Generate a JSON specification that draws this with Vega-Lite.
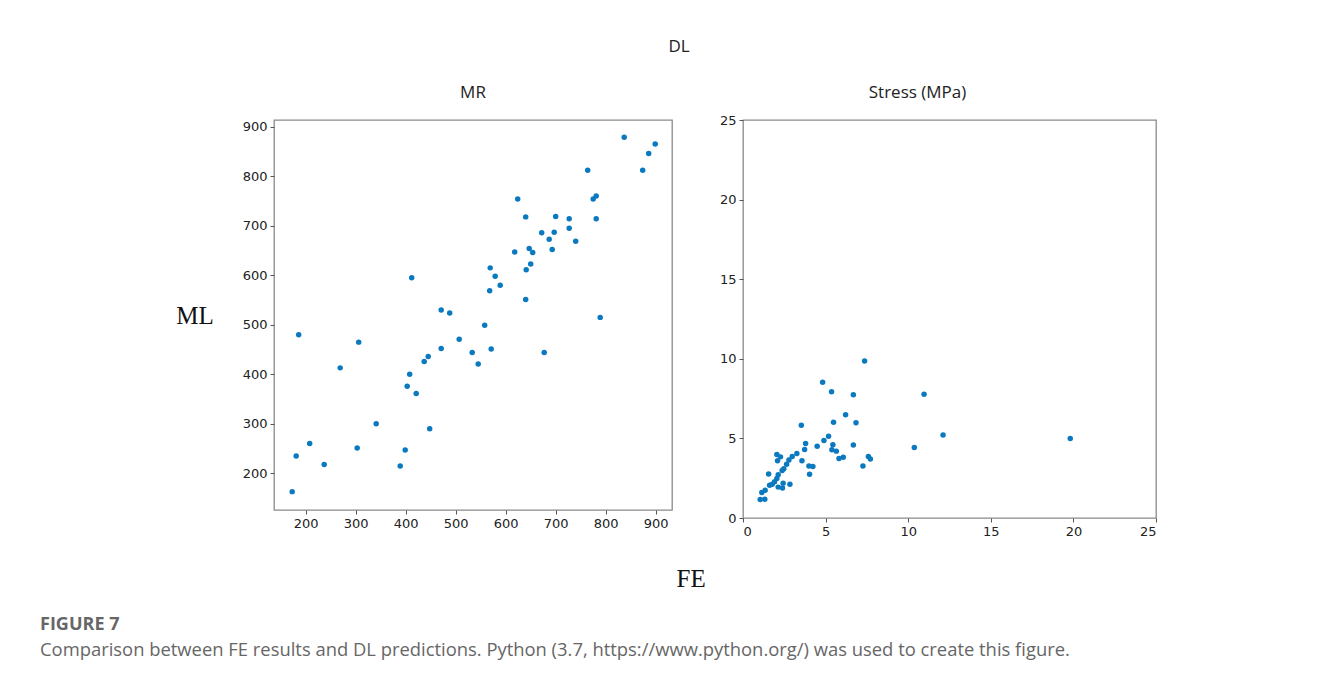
{
  "$schema": "https://vega.github.io/schema/vega-lite/v6.json",
  "background": "white",
  "padding": {"left": 40, "top": 38, "right": 10, "bottom": 5},
  "config": {
    "view": {"stroke": "#8a8a8a", "strokeWidth": 1.3},
    "axis": {"grid": false, "domain": false, "tickColor": "#555", "tickSize": 4, "labelPadding": 3, "labelFont": "DejaVu Sans", "labelFontSize": 13, "labelColor": "#222"},
    "title": {"font": "Open Sans", "fontSize": 17, "fontWeight": "normal", "color": "#222"}
  },
  "datasets": {
    "mr": [
      {"fe": 173, "ml": 163}, {"fe": 181, "ml": 235}, {"fe": 186, "ml": 480}, {"fe": 208, "ml": 260},
      {"fe": 237, "ml": 218}, {"fe": 269, "ml": 413}, {"fe": 303, "ml": 251}, {"fe": 306, "ml": 465},
      {"fe": 341, "ml": 300}, {"fe": 389, "ml": 215}, {"fe": 399, "ml": 247}, {"fe": 403, "ml": 376},
      {"fe": 408, "ml": 400}, {"fe": 412, "ml": 595}, {"fe": 421, "ml": 361}, {"fe": 437, "ml": 426},
      {"fe": 445, "ml": 436}, {"fe": 448, "ml": 290}, {"fe": 471, "ml": 530}, {"fe": 471, "ml": 452},
      {"fe": 488, "ml": 524}, {"fe": 507, "ml": 471}, {"fe": 533, "ml": 444}, {"fe": 545, "ml": 421},
      {"fe": 558, "ml": 499}, {"fe": 571, "ml": 451}, {"fe": 568, "ml": 569}, {"fe": 569, "ml": 615},
      {"fe": 579, "ml": 598}, {"fe": 589, "ml": 580}, {"fe": 618, "ml": 647}, {"fe": 624, "ml": 754},
      {"fe": 640, "ml": 718}, {"fe": 640, "ml": 551}, {"fe": 641, "ml": 611}, {"fe": 647, "ml": 654},
      {"fe": 650, "ml": 623}, {"fe": 654, "ml": 646}, {"fe": 672, "ml": 686}, {"fe": 677, "ml": 444},
      {"fe": 687, "ml": 673}, {"fe": 693, "ml": 652}, {"fe": 697, "ml": 687}, {"fe": 700, "ml": 719},
      {"fe": 727, "ml": 714}, {"fe": 727, "ml": 695}, {"fe": 740, "ml": 669}, {"fe": 764, "ml": 812},
      {"fe": 775, "ml": 754}, {"fe": 781, "ml": 760}, {"fe": 781, "ml": 714}, {"fe": 789, "ml": 515},
      {"fe": 837, "ml": 879}, {"fe": 874, "ml": 812}, {"fe": 886, "ml": 846}, {"fe": 899, "ml": 865}
    ],
    "stress": [
      {"fe": 7.36, "ml": 9.86}, {"fe": 4.82, "ml": 8.52}, {"fe": 5.36, "ml": 7.93}, {"fe": 6.68, "ml": 7.74},
      {"fe": 10.96, "ml": 7.78}, {"fe": 6.21, "ml": 6.48}, {"fe": 5.48, "ml": 6.02}, {"fe": 6.84, "ml": 5.98},
      {"fe": 3.53, "ml": 5.83}, {"fe": 12.11, "ml": 5.22}, {"fe": 5.18, "ml": 5.14}, {"fe": 4.9, "ml": 4.87},
      {"fe": 3.79, "ml": 4.68}, {"fe": 4.49, "ml": 4.51}, {"fe": 5.44, "ml": 4.6}, {"fe": 6.68, "ml": 4.58},
      {"fe": 10.37, "ml": 4.43}, {"fe": 3.73, "ml": 4.3}, {"fe": 5.38, "ml": 4.28}, {"fe": 5.65, "ml": 4.2},
      {"fe": 3.26, "ml": 4.05}, {"fe": 2.98, "ml": 3.86}, {"fe": 2.05, "ml": 3.99}, {"fe": 2.27, "ml": 3.84},
      {"fe": 2.09, "ml": 3.59}, {"fe": 2.78, "ml": 3.65}, {"fe": 3.57, "ml": 3.59}, {"fe": 5.81, "ml": 3.74},
      {"fe": 6.07, "ml": 3.82}, {"fe": 7.59, "ml": 3.86}, {"fe": 7.71, "ml": 3.7}, {"fe": 7.26, "ml": 3.26},
      {"fe": 3.99, "ml": 3.26}, {"fe": 4.23, "ml": 3.23}, {"fe": 2.64, "ml": 3.38}, {"fe": 2.47, "ml": 3.09},
      {"fe": 2.37, "ml": 2.98}, {"fe": 1.55, "ml": 2.77}, {"fe": 4.03, "ml": 2.75}, {"fe": 2.13, "ml": 2.71},
      {"fe": 2.05, "ml": 2.48}, {"fe": 1.91, "ml": 2.27}, {"fe": 1.77, "ml": 2.12}, {"fe": 1.61, "ml": 2.06},
      {"fe": 2.43, "ml": 2.19}, {"fe": 2.84, "ml": 2.12}, {"fe": 2.13, "ml": 1.94}, {"fe": 2.39, "ml": 1.89},
      {"fe": 1.34, "ml": 1.75}, {"fe": 1.14, "ml": 1.6}, {"fe": 1.04, "ml": 1.16}, {"fe": 1.32, "ml": 1.18},
      {"fe": 19.81, "ml": 4.99}
    ]
  },
  "title": {
    "text": "FIGURE 7",
    "subtitle": "Comparison between FE results and DL predictions. Python (3.7, https://www.python.org/) was used to create this figure.",
    "orient": "bottom", "anchor": "start", "dx": -135, "offset": 24,
    "font": "Open Sans", "fontSize": 18, "fontWeight": "bold", "color": "#666",
    "subtitleFont": "Open Sans", "subtitleFontSize": 18.4, "subtitleColor": "#666", "subtitlePadding": 7
  },
  "vconcat": [
    {
      "title": {"text": "DL", "orient": "top", "anchor": "middle", "offset": 27, "dx": 13},
      "vconcat": [
        {
          "title": {"text": "FE", "orient": "bottom", "anchor": "middle", "offset": 28, "dx": 25, "font": "Liberation Serif", "fontSize": 25, "color": "#111"},
          "spacing": 45,
          "hconcat": [
            {
              "width": 398, "height": 390,
              "title": {"text": "MR", "offset": 18},
              "data": {"name": "mr"},
              "mark": {"type": "circle", "size": 30, "color": "#0b79bf", "opacity": 1},
              "encoding": {
                "x": {"field": "fe", "type": "quantitative", "scale": {"domain": [136.6, 932.6], "nice": false, "zero": false},
                      "axis": {"values": [200, 300, 400, 500, 600, 700, 800, 900], "title": null}},
                "y": {"field": "ml", "type": "quantitative", "scale": {"domain": [125.9, 913.7], "nice": false, "zero": false},
                      "axis": {"values": [200, 300, 400, 500, 600, 700, 800, 900], "title": "ML", "titleAngle": 0, "titleAlign": "right", "titleBaseline": "middle", "titleFont": "Liberation Serif", "titleFontSize": 25, "titleFontWeight": "normal", "titleColor": "#111", "titlePadding": 29}}
              }
            },
            {
              "width": 413, "height": 398,
              "title": {"text": "Stress (MPa)", "offset": 18, "dx": -32, "dy": 6},
              "data": {"name": "stress"},
              "mark": {"type": "circle", "size": 30, "color": "#0b79bf", "opacity": 1},
              "encoding": {
                "x": {"field": "fe", "type": "quantitative", "scale": {"domain": [0, 25], "nice": false},
                      "axis": {"values": [0, 5, 10, 15, 20, 25], "title": null}},
                "y": {"field": "ml", "type": "quantitative", "scale": {"domain": [0, 25], "nice": false},
                      "axis": {"values": [0, 5, 10, 15, 20, 25], "title": null}}
              }
            }
          ]
        }
      ]
    }
  ]
}
